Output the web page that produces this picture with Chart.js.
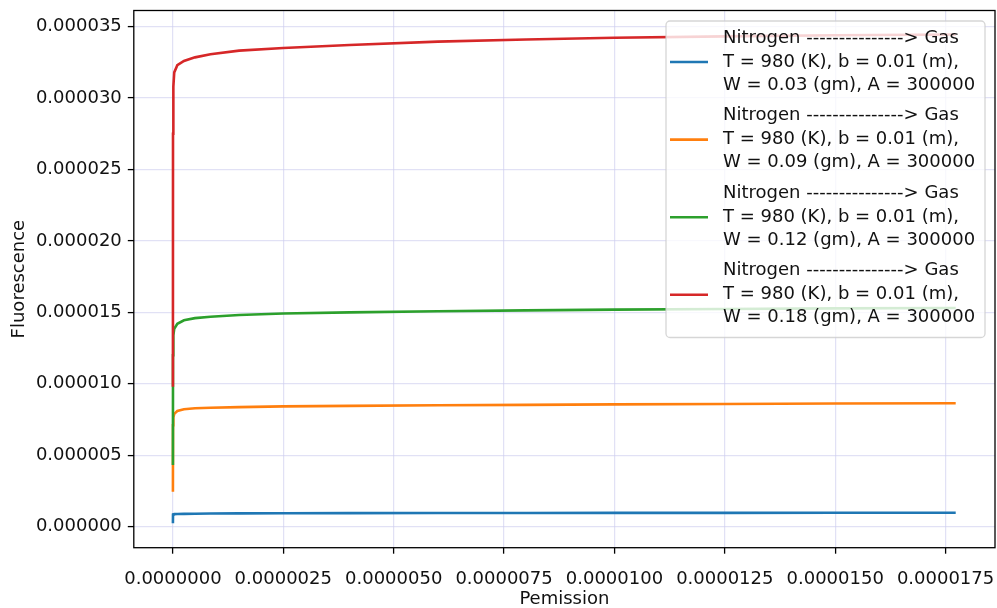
<!DOCTYPE html>
<html>
<head>
<meta charset="utf-8">
<script src="https://cdn.jsdelivr.net/npm/chart.js@4/dist/chart.umd.min.js"></script>
<style>
  html, body { margin: 0; padding: 0; background: #fff; }
  canvas { display: block; }
</style>
</head>
<body>
<canvas id="chart" width="997" height="608"></canvas>
<script>
// Permission sample positions (units of 1e-6)
const permission = [0, 0.002, 0.01, 0.03, 0.1, 0.25, 0.5, 0.85, 1.5, 2.5, 4, 6, 8, 10, 12.5, 15, 17.73];

// Fluorescence for each sample weight (units of 1e-6)
const fluorW003 = [0.24, 0.84, 0.87, 0.88, 0.89, 0.90, 0.91, 0.92, 0.93, 0.94, 0.95, 0.955, 0.96, 0.965, 0.97, 0.975, 0.98];
const fluorW009 = [2.45, 7.1, 7.65, 7.9, 8.1, 8.22, 8.29, 8.33, 8.37, 8.42, 8.46, 8.50, 8.53, 8.56, 8.59, 8.62, 8.64];
const fluorW012 = [4.32, 12.0, 13.4, 13.85, 14.2, 14.45, 14.6, 14.7, 14.82, 14.92, 15.0, 15.08, 15.14, 15.19, 15.24, 15.28, 15.31];
const fluorW018 = [9.8, 27.5, 30.8, 31.8, 32.3, 32.6, 32.85, 33.07, 33.32, 33.5, 33.72, 33.95, 34.1, 34.22, 34.32, 34.4, 34.45];

const seriesLabels = [
  ["Nitrogen ---------------> Gas", "T = 980 (K), b = 0.01 (m),", "W = 0.03 (gm), A = 300000"],
  ["Nitrogen ---------------> Gas", "T = 980 (K), b = 0.01 (m),", "W = 0.09 (gm), A = 300000"],
  ["Nitrogen ---------------> Gas", "T = 980 (K), b = 0.01 (m),", "W = 0.12 (gm), A = 300000"],
  ["Nitrogen ---------------> Gas", "T = 980 (K), b = 0.01 (m),", "W = 0.18 (gm), A = 300000"]
];
const seriesValues = [fluorW003, fluorW009, fluorW012, fluorW018];
const seriesColors = ["#1f77b4", "#ff7f0e", "#2ca02c", "#d62728"];

const xTickValues = [0, 2.5e-6, 5e-6, 7.5e-6, 10e-6, 12.5e-6, 15e-6, 17.5e-6];
const yTickValues = [0, 5e-6, 10e-6, 15e-6, 20e-6, 25e-6, 30e-6, 35e-6];

const FONT = "'DejaVu Sans', sans-serif";
const FS = 18;
const TEXT = "#111";

const datasets = seriesValues.map((vals, i) => ({
  label: seriesLabels[i],
  data: permission.map((p, k) => ({ x: p * 1e-6, y: vals[k] * 1e-6 })),
  borderColor: seriesColors[i],
  backgroundColor: seriesColors[i],
  borderWidth: 2.6,
  pointRadius: 0,
  tension: 0,
  fill: false,
  order: seriesValues.length - i
}));

// frame around the plotting area
const framePlugin = {
  id: 'frame',
  afterDatasetsDraw(chart) {
    const { ctx, chartArea: a } = chart;
    ctx.save();
    ctx.strokeStyle = "#000";
    ctx.lineWidth = 1.3;
    ctx.strokeRect(a.left, a.top, a.right - a.left, a.bottom - a.top);
    ctx.restore();
  }
};

// multi-line legend box in the upper right corner
const legendPlugin = {
  id: 'boxLegend',
  afterDraw(chart) {
    const { ctx, chartArea: a } = chart;
    const boxL = a.right - 329, boxT = a.top + 10.5, boxW = 319, boxH = 316.5;
    ctx.save();
    ctx.beginPath();
    ctx.roundRect(boxL, boxT, boxW, boxH, 4);
    ctx.fillStyle = "rgba(255,255,255,0.8)";
    ctx.fill();
    ctx.strokeStyle = "rgba(204,204,204,0.8)";
    ctx.lineWidth = 1.3;
    ctx.stroke();
    ctx.font = FS + "px " + FONT;
    ctx.fillStyle = TEXT;
    ctx.textAlign = "left";
    ctx.textBaseline = "middle";
    chart.data.datasets.forEach((ds, i) => {
      const cy = boxT + 41 + i * 77.6;
      ctx.beginPath();
      ctx.strokeStyle = ds.borderColor;
      ctx.lineWidth = 2.6;
      ctx.moveTo(boxL + 4, cy);
      ctx.lineTo(boxL + 42, cy);
      ctx.stroke();
      const lines = ds.label;
      const offs = [-24, 0, 23];
      lines.forEach((t, j) => ctx.fillText(t, boxL + 57, cy + offs[j]));
    });
    ctx.restore();
  }
};

new Chart(document.getElementById('chart'), {
  type: 'line',
  data: { datasets },
  plugins: [framePlugin, legendPlugin],
  options: {
    responsive: false,
    animation: false,
    devicePixelRatio: 1,
    layout: { padding: { left: 0, right: 2, top: 10.5, bottom: 0 } },
    plugins: { legend: { display: false }, tooltip: { enabled: false } },
    scales: {
      x: {
        type: 'linear',
        min: -0.886e-6,
        max: 18.62e-6,
        afterBuildTicks(scale) { scale.ticks = xTickValues.map(v => ({ value: v })); },
        afterFit(scale) { scale.height = 60.3; scale.paddingLeft = 0; scale.paddingRight = 0; },
        ticks: {
          callback: v => v.toFixed(7),
          font: { family: FONT, size: FS },
          color: TEXT,
          padding: 15,
          maxRotation: 0,
          autoSkip: false
        },
        grid: { color: "rgba(205,205,238,0.6)", lineWidth: 1.2, tickColor: "#000", tickLength: 6, tickWidth: 1.3 },
        border: { display: false },
        title: { display: true, text: "Pemission", font: { family: FONT, size: FS, lineHeight: 1.0 }, color: TEXT, padding: { top: 0, bottom: 0 } }
      },
      y: {
        type: 'linear',
        min: -1.47e-6,
        max: 36.13e-6,
        afterBuildTicks(scale) { scale.ticks = yTickValues.map(v => ({ value: v })); },
        afterFit(scale) { scale.width = 133.8; scale.paddingTop = 0; scale.paddingBottom = 0; },
        ticks: {
          callback: v => v.toFixed(6),
          font: { family: FONT, size: FS },
          color: TEXT,
          padding: 6,
          autoSkip: false
        },
        grid: { color: "rgba(205,205,238,0.6)", lineWidth: 1.2, tickColor: "#000", tickLength: 6, tickWidth: 1.3 },
        border: { display: false },
        title: { display: true, text: "Fluorescence", font: { family: FONT, size: FS }, color: TEXT, padding: { top: 9, bottom: 0 } }
      }
    }
  }
});
</script>
</body>
</html>
